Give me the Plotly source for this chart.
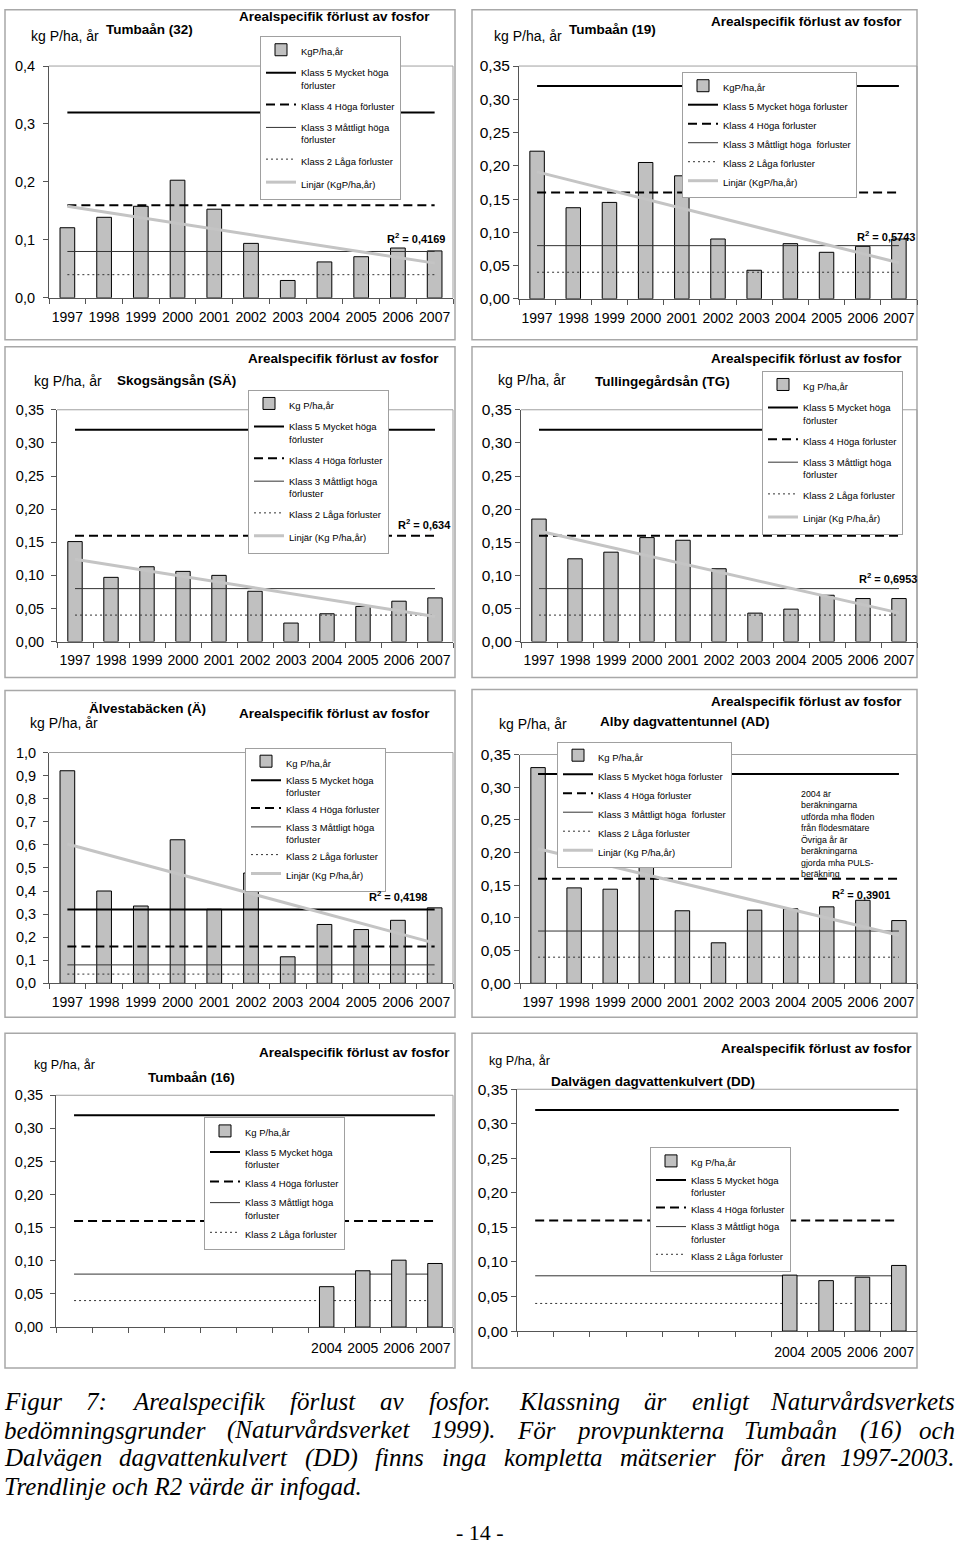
import numpy as np
import plotly.graph_objects as go

W = 960
H_FIG = 1547
# measured page mapping: page_y = V_SCALE * (figure_y + Y_OFF)
Y_OFF = 8
V_SCALE = 1547 / 1563

# ---------------- data ----------------
years = ["1997", "1998", "1999", "2000", "2001", "2002", "2003", "2004", "2005", "2006", "2007"]
years_partial = ["2004", "2005", "2006", "2007"]

tumba32_values = [0.121, 0.139, 0.158, 0.203, 0.153, 0.094, 0.030, 0.062, 0.071, 0.086, 0.081]
tumba19_values = [0.222, 0.137, 0.145, 0.205, 0.185, 0.090, 0.043, 0.083, 0.070, 0.079, 0.090]
skogsangs_values = [0.151, 0.097, 0.113, 0.106, 0.100, 0.076, 0.028, 0.042, 0.053, 0.061, 0.066]
tullinge_values = [0.185, 0.125, 0.135, 0.157, 0.153, 0.110, 0.043, 0.049, 0.070, 0.065, 0.065]
alvesta_values = [0.921, 0.400, 0.335, 0.622, 0.321, 0.478, 0.115, 0.255, 0.233, 0.273, 0.327]
alby_values = [0.330, 0.146, 0.144, 0.178, 0.111, 0.062, 0.112, 0.114, 0.117, 0.127, 0.096]
tumba16_values = [0.061, 0.085, 0.101, 0.096]
dalvagen_values = [0.081, 0.073, 0.078, 0.095]

class5_level = 0.32
class4_level = 0.16
class3_level = 0.08
class2_level = 0.04

station_titles = ["Tumbaån (32)", "Tumbaån (19)", "Skogsängsån (SÄ)", "Tullingegårdsån (TG)",
                  "Älvestabäcken (Ä)", "Alby dagvattentunnel (AD)", "Tumbaån (16)",
                  "Dalvägen dagvattenkulvert (DD)"]
r2_labels = ["0,4169", "0,5743", "0,634", "0,6953", "0,4198", "0,3901", None, None]
chart_title = "Arealspecifik förlust av fosfor"
unit_label = "kg P/ha, år"

bar_names = ["KgP/ha,år", "KgP/ha,år", "Kg P/ha,år", "Kg P/ha,år", "Kg P/ha,år", "Kg P/ha,år",
             "Kg P/ha,år", "Kg P/ha,år"]
trend_names = ["Linjär (KgP/ha,år)", "Linjär (KgP/ha,år)", "Linjär (Kg P/ha,år)", "Linjär (Kg P/ha,år)",
               "Linjär (Kg P/ha,år)", "Linjär (Kg P/ha,år)", None, None]
k5_two = "Klass 5 Mycket höga<br>förluster"
k5_one = "Klass 5 Mycket höga förluster"
k3_two = "Klass 3 Måttligt höga<br>förluster"
k3_one = "Klass 3 Måttligt höga  förluster"
k4_name = "Klass 4 Höga förluster"
k2_name = "Klass 2 Låga förluster"

note_text = ("2004 är<br>beräkningarna<br>utförda mha flöden<br>från flödesmätare<br>Övriga år är"
             "<br>beräkningarna<br>gjorda mha PULS-<br>beräkning")

caption_justified = [
    "Figur 7: Arealspecifik förlust av fosfor. Klassning är enligt Naturvårdsverkets",
    "bedömningsgrunder (Naturvårdsverket 1999). För provpunkterna Tumbaån (16) och",
    "Dalvägen dagvattenkulvert (DD) finns inga kompletta mätserier för åren 1997-2003.",
]
caption_last = "Trendlinje och R2 värde är infogad."
page_label = "- 14 -"

panel_values = [tumba32_values, tumba19_values, skogsangs_values, tullinge_values,
                alvesta_values, alby_values, tumba16_values, dalvagen_values]
panel_x = [years] * 6 + [years_partial] * 2
panel_k5 = [k5_two, k5_one, k5_two, k5_two, k5_two, k5_one, k5_two, k5_two]
panel_k3 = [k3_two, k3_one, k3_two, k3_two, k3_two, k3_one, k3_two, k3_two]

# ---------------- layout spec (pixel positions on the page) ----------------
spec = [
    dict(plot=(49, 65, 453, 297), frame=(5, 3, 455, 339), ymax=0.4, dtick=0.1, fmt=".1f", tf=14.5, so=5,
         title=(237, 15), sub=(104, 28), ylab=(29, 35), yls=14, r2=(385, 237), leg=(260, 35), gap=4),
    dict(plot=(519, 65, 917, 298), frame=(472, 3, 917, 339), ymax=0.35, dtick=0.05, fmt=".2f", tf=15.5, so=0,
         title=(709, 20), sub=(567, 28), ylab=(492, 35), yls=14, r2=(855, 235), leg=(682, 71), gap=0),
    dict(plot=(57, 409, 453, 641), frame=(5, 346, 455, 677), ymax=0.35, dtick=0.05, fmt=".2f", tf=14.5, so=4,
         title=(246, 358), sub=(115, 380), ylab=(32, 380), yls=14, r2=(396, 523), leg=(248, 389), gap=4),
    dict(plot=(521, 409, 917, 641), frame=(472, 346, 917, 677), ymax=0.35, dtick=0.05, fmt=".2f", tf=15.5, so=0,
         title=(709, 358), sub=(593, 381), ylab=(496, 379), yls=14, r2=(857, 577), leg=(762, 370), gap=4),
    dict(plot=(49, 752, 453, 983), frame=(5, 690, 455, 1017), ymax=1.0, dtick=0.1, fmt=".1f", tf=14.5, so=4,
         title=(237, 713), sub=(87, 708), ylab=(28, 722), yls=14, r2=(367, 896), leg=(245, 747), gap=0),
    dict(plot=(520, 754, 917, 983), frame=(472, 689, 917, 1017), ymax=0.35, dtick=0.05, fmt=".2f", tf=15.5, so=0,
         title=(709, 701), sub=(598, 721), ylab=(497, 723), yls=14, r2=(830, 894), leg=(557, 741), gap=0),
    dict(plot=(56, 1095, 453, 1327), frame=(5, 1033, 455, 1368), ymax=0.35, dtick=0.05, fmt=".2f", tf=14.5, so=4,
         title=(257, 1052), sub=(146, 1077), ylab=(32, 1065), yls=12.6, r2=None, leg=(204, 1117), gap=2),
    dict(plot=(517, 1089, 917, 1331), frame=(472, 1033, 917, 1368), ymax=0.35, dtick=0.05, fmt=".2f", tf=15.5, so=0,
         title=(719, 1048), sub=(549, 1081), ylab=(487, 1061), yls=12.6, r2=None, leg=(650, 1147), gap=0),
]

caption_y = [1401, 1430, 1458, 1487]
CAPTION_SIZE = 25
CAPTION_LEFT, CAPTION_RIGHT = 2, 957

# Times/Liberation Serif Italic advance widths (1/1000 em) for justification
TI = {" ": 250, "(": 333, ")": 333, ",": 250, "-": 333, ".": 250, ":": 333,
      "A": 611, "D": 722, "F": 611, "K": 667, "N": 667, "R": 611, "T": 556,
      "a": 500, "b": 500, "c": 444, "d": 500, "e": 444, "f": 278, "g": 500, "h": 500, "i": 278,
      "j": 278, "k": 444, "l": 278, "m": 722, "n": 500, "o": 500, "p": 500, "r": 389, "s": 389,
      "t": 278, "u": 500, "v": 444, "å": 500, "ä": 500, "ö": 500}
for d in "0123456789":
    TI[d] = 500

SANS = "Liberation Sans, Arial, sans-serif"
SERIF = "Liberation Serif, Times New Roman, serif"
BAR_FILL = "#c0c0c0"
TREND = "#c4c4c4"
AXIS = "#555555"
FRAME = "#a8a8a8"


def pxx(x):
    return x / W


def pxy(y):
    # page pixel y -> paper fraction of the figure
    yf = y / V_SCALE - Y_OFF
    yf = min(max(yf, 0.75), H_FIG - 0.75)
    return 1 - yf / H_FIG


def text_w(word, size):
    return sum(TI.get(ch, 500) for ch in word) / 1000.0 * size


fig = go.Figure()
annotations = []
shapes = []
layout_extra = {}

for i in range(8):
    n = i + 1
    sx = "" if n == 1 else str(n)
    xid, yid = "x" + sx, "y" + sx
    leg = "legend" + sx
    s = spec[i]
    vals = panel_values[i]
    xs = panel_x[i]
    partial = len(xs) < len(years)
    bar_xid = f"x{8 + n}" if partial else xid

    common = dict(yaxis=yid, legend=leg, hoverinfo="skip")
    fig.add_trace(go.Bar(x=xs, y=vals, width=0.4, name=bar_names[i], legendgroup=f"p{n}a", xaxis=bar_xid,
                         marker=dict(color=BAR_FILL, line=dict(color="black", width=1)), **common))
    ends = [years[0], years[-1]]
    fig.add_trace(go.Scatter(x=ends, y=[class5_level] * 2, mode="lines", name=panel_k5[i], xaxis=xid,
                             legendgroup=f"p{n}b", line=dict(color="black", width=2), **common))
    fig.add_trace(go.Scatter(x=ends, y=[class4_level] * 2, mode="lines", name=k4_name, xaxis=xid,
                             legendgroup=f"p{n}c", line=dict(color="black", width=2, dash="9px,5px"), **common))
    fig.add_trace(go.Scatter(x=ends, y=[class3_level] * 2, mode="lines", name=panel_k3[i], xaxis=xid,
                             legendgroup=f"p{n}d", line=dict(color="#333333", width=1), **common))
    fig.add_trace(go.Scatter(x=ends, y=[class2_level] * 2, mode="lines", name=k2_name, xaxis=xid,
                             legendgroup=f"p{n}e", line=dict(color="#333333", width=1, dash="2px,3px"), **common))
    if trend_names[i]:
        idx = np.arange(len(vals))
        slope, icpt = np.polyfit(idx, np.array(vals), 1)
        fig.add_trace(go.Scatter(x=xs, y=icpt + slope * idx, mode="lines", name=trend_names[i], xaxis=xid,
                                 legendgroup=f"p{n}f", line=dict(color=TREND, width=3), **common))

    l, t, r, b = s["plot"]
    xfont = dict(family=SANS, size=14, color="black")
    layout_extra["xaxis" + sx] = dict(
        domain=[pxx(l), pxx(r)], anchor=yid, type="category", categoryorder="array",
        categoryarray=years, range=[-0.5, 10.5], tickmode="array", tickvals=years,
        tickson="boundaries", ticks="outside", ticklen=5, tickangle=0, ticklabelstandoff=6,
        tickcolor=AXIS, showline=True, linecolor=AXIS, linewidth=1, showgrid=False,
        zeroline=False, tickfont=xfont, showticklabels=not partial, fixedrange=True)
    if partial:
        layout_extra[f"xaxis{8 + n}"] = dict(
            overlaying=xid, anchor=yid, side="bottom", type="category", categoryorder="array",
            categoryarray=years, range=[-0.5, 10.5], tickmode="array", tickvals=years_partial,
            ticks="", tickangle=0, ticklabelstandoff=11, showline=False, showgrid=False, zeroline=False,
            tickfont=xfont, fixedrange=True)
    layout_extra["yaxis" + sx] = dict(
        domain=[pxy(b), pxy(t)], anchor=xid, range=[0, s["ymax"]], dtick=s["dtick"], tick0=0,
        tickformat=s["fmt"], ticks="outside", ticklen=5, tickcolor=AXIS, showline=True,
        linecolor=AXIS, linewidth=1, showgrid=False, zeroline=False, ticklabelstandoff=s["so"],
        tickfont=dict(family=SANS, size=s["tf"], color="black"), fixedrange=True)

    lx, ly = s["leg"]
    layout_extra[leg] = dict(
        x=pxx(lx), y=pxy(ly), xanchor="left", yanchor="top", xref="paper", yref="paper",
        bgcolor="white", bordercolor="#a0a0a0", borderwidth=1,
        font=dict(family=SANS, size=9.5, color="black"), traceorder="grouped",
        tracegroupgap=s["gap"], valign="top", itemwidth=30)

    shapes.append(dict(type="line", xref=f"{xid} domain", yref=f"{yid} domain", x0=0, x1=1, y0=1, y1=1,
                       line=dict(color="#a0a0a0", width=1)))
    shapes.append(dict(type="line", xref=f"{xid} domain", yref=f"{yid} domain", x0=1, x1=1, y0=0, y1=1,
                       line=dict(color="#a0a0a0", width=1)))
    fl, ft, fr, fb = s["frame"]
    shapes.append(dict(type="rect", xref="paper", yref="paper", x0=pxx(fl), x1=pxx(fr), y0=pxy(fb),
                       y1=pxy(ft), line=dict(color=FRAME, width=1.5), fillcolor="rgba(0,0,0,0)",
                       layer="below"))

    def ann(text, pos, size, bold=False):
        annotations.append(dict(text=f"<b>{text}</b>" if bold else text, x=pxx(pos[0]), y=pxy(pos[1]),
                                xref="paper", yref="paper", xanchor="left", yanchor="middle",
                                showarrow=False, font=dict(family=SANS, size=size, color="black")))

    ann(chart_title, s["title"], 13.5, bold=True)
    ann(station_titles[i], s["sub"], 13.5, bold=True)
    ann(unit_label, s["ylab"], s["yls"])
    if r2_labels[i]:
        ann(f"R<sup>2</sup> = {r2_labels[i]}", s["r2"], 11, bold=True)

annotations.append(dict(text=note_text, x=pxx(799), y=pxy(787), xref="paper", yref="paper",
                        xanchor="left", yanchor="top", align="left", showarrow=False,
                        font=dict(family=SANS, size=8.8, color="black")))

# caption: justified lines, placed word by word
cap_font = dict(family=SERIF, size=CAPTION_SIZE, color="black")
for line, cy in zip(caption_justified, caption_y):
    words = line.split(" ")
    widths = [text_w(w, CAPTION_SIZE) for w in words]
    gap = (CAPTION_RIGHT - CAPTION_LEFT - sum(widths)) / (len(words) - 1)
    x = CAPTION_LEFT
    for k, (w, wd) in enumerate(zip(words, widths)):
        last = k == len(words) - 1
        annotations.append(dict(text=f"<i>{w}</i>", x=pxx(CAPTION_RIGHT if last else x), y=pxy(cy),
                                xref="paper", yref="paper", xanchor="right" if last else "left",
                                yanchor="middle", showarrow=False, font=cap_font))
        x += wd + gap
annotations.append(dict(text=f"<i>{caption_last}</i>", x=pxx(CAPTION_LEFT), y=pxy(caption_y[3]),
                        xref="paper", yref="paper", xanchor="left", yanchor="middle", showarrow=False,
                        font=cap_font))
annotations.append(dict(text=page_label, x=pxx(480), y=pxy(1533), xref="paper", yref="paper",
                        xanchor="center", yanchor="middle", showarrow=False,
                        font=dict(family=SERIF, size=22, color="black")))

fig.update_layout(
    width=W, height=H_FIG, margin=dict(l=0, r=0, t=0, b=0, pad=0),
    paper_bgcolor="white", plot_bgcolor="white", separators=", ",
    showlegend=True, hovermode=False, annotations=annotations, shapes=shapes,
    **layout_extra)

reset_css = ("document.documentElement.style.margin='0';document.body.style.margin='0';"
             "document.body.style.padding='0';document.body.style.overflow='hidden';"
             "document.documentElement.style.overflow='hidden';")
fig.write_html("out.html", post_script=reset_css, config={"displayModeBar": False})
